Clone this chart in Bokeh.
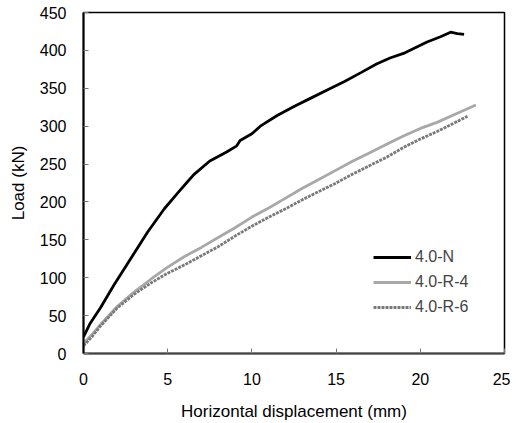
from bokeh.plotting import figure
from bokeh.models import Range1d, Legend, LegendItem, FixedTicker
from bokeh.embed import file_html
from bokeh.resources import INLINE

# ---- data ----
x_N = [0, 0.4, 1.0, 1.8, 2.8, 3.8, 4.8, 5.6, 6.15, 6.55, 7.5, 8.5, 9.1, 9.3,
       10.0, 10.5, 11.5, 12.5, 13.5, 14.5, 15.5, 16.5, 17.4, 18.2, 19.0, 20.4,
       21.2, 21.8, 22.2, 22.6]
y_N = [22, 40, 60, 90, 125, 160, 191, 212, 226, 236, 254, 266, 274, 281,
       290, 300, 314, 326, 337, 348, 359, 371, 382, 390, 396, 411,
       418, 424, 422, 421]

x_R4 = [0, 0.2, 0.5, 1, 2, 3, 4, 5, 6, 7, 8, 9, 10, 11, 12, 13, 14, 15, 16, 17,
        18, 19, 20, 21, 22, 23, 23.3]
y_R4 = [12, 18, 25, 38, 62, 81, 98, 114, 128, 140, 153, 166, 180, 192, 205, 218,
        230, 242, 254, 265, 276, 287, 297, 305, 315, 325, 328]

x_R6 = [0, 0.5, 1, 2, 3, 4, 5, 6, 7, 8, 9, 10, 11, 12, 13, 14, 15, 16, 17, 18,
        19, 20, 21, 22, 22.8]
y_R6 = [10, 22, 36, 60, 78, 93, 106, 117, 129, 141, 155, 168, 180, 191, 203, 214,
        225, 237, 248, 259, 272, 283, 293, 304, 313]

series_labels = ["4.0-N", "4.0-R-4", "4.0-R-6"]
x_ticks = [0, 5, 10, 15, 20, 25]
y_ticks = [0, 50, 100, 150, 200, 250, 300, 350, 400, 450]

FONT = "Liberation Sans"

p = figure(width=510, height=423, output_backend="svg", toolbar_location=None,
           x_range=Range1d(0, 25), y_range=Range1d(0, 450),
           min_border_left=83, min_border_right=6, min_border_top=12, min_border_bottom=69)

p.xgrid.visible = False
p.ygrid.visible = False
p.outline_line_color = "black"
p.outline_line_width = 1.5

r_n = p.line(x_N, y_N, line_color="black", line_width=2.8)
r_r4 = p.line(x_R4, y_R4, line_color="#a8a8a8", line_width=2.8)
r_r6 = p.line(x_R6, y_R6, line_color="#7a7a7a", line_width=2.8, line_dash="3 1")

for ax in (p.xaxis[0], p.yaxis[0]):
    ax.major_label_text_font = FONT
    ax.major_label_text_font_size = "16px"
    ax.major_label_text_color = "black"
    ax.axis_label_text_font = FONT
    ax.axis_label_text_font_size = "17px"
    ax.axis_label_text_font_style = "normal"
    ax.axis_label_text_color = "black"
    ax.minor_tick_line_color = None
    ax.major_tick_in = 5
    ax.major_tick_out = 0

p.xaxis.ticker = FixedTicker(ticks=x_ticks)
p.yaxis.ticker = FixedTicker(ticks=y_ticks)
p.xaxis.axis_label = "Horizontal displacement (mm)"
p.yaxis.axis_label = "Load (kN)"
p.xaxis.axis_line_color = "#444444"
p.xaxis.axis_line_width = 2
p.xaxis.major_tick_line_color = "#777777"
p.yaxis.axis_line_color = "black"
p.yaxis.axis_line_width = 2
p.yaxis.major_tick_line_color = "#777777"
p.xaxis.major_label_standoff = 19
p.yaxis.major_label_standoff = 17
p.xaxis.axis_label_standoff = 14
p.yaxis.axis_label_standoff = 9

legend = Legend(items=[LegendItem(label=series_labels[0], renderers=[r_n]),
                       LegendItem(label=series_labels[1], renderers=[r_r4]),
                       LegendItem(label=series_labels[2], renderers=[r_r6])],
                location=(290, 36), glyph_width=38, glyph_height=20, label_height=20,
                spacing=5, padding=0, margin=0, label_standoff=4,
                label_text_font=FONT, label_text_font_size="16px",
                border_line_alpha=0, background_fill_alpha=0)
p.add_layout(legend, "center")

open("out.html", "w").write(file_html(p, INLINE))
